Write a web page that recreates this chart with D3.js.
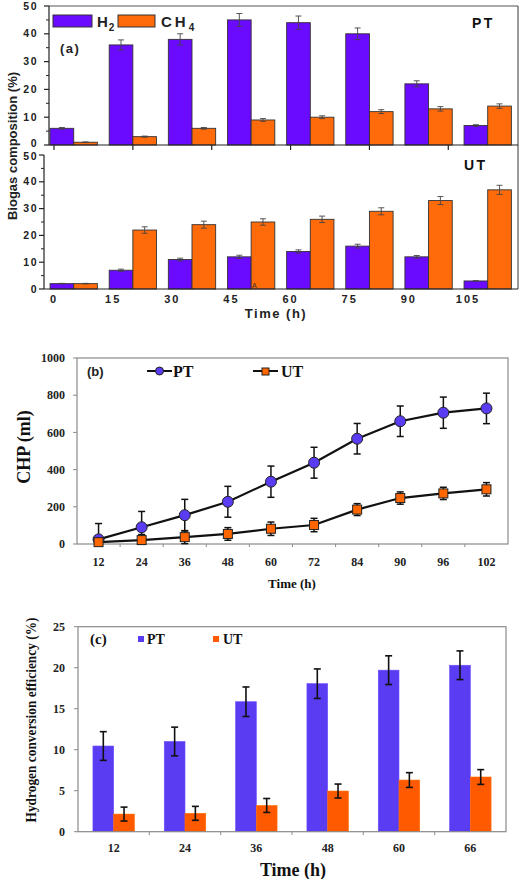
<!DOCTYPE html>
<html><head><meta charset="utf-8">
<script src="https://cdn.jsdelivr.net/npm/d3@7"></script>
<style>body{margin:0;background:#fff}svg{display:block}</style>
</head><body>
<script>
// ---------- DATA ----------
// Panel (a)
const timesA = [0, 15, 30, 45, 60, 75, 90, 105];
const ptH2 = [6, 36, 38, 45, 44, 40, 22, 7];
const ptH2Err = [0.3, 1.8, 2.0, 2.3, 2.4, 2.1, 1.1, 0.3];
const ptCH4 = [1, 3, 6, 9, 10, 12, 13, 14];
const ptCH4Err = [0.1, 0.2, 0.3, 0.5, 0.5, 0.7, 0.8, 0.8];
const utH2 = [2, 7, 11, 12, 14, 16, 12, 3];
const utH2Err = [0.1, 0.4, 0.5, 0.6, 0.6, 0.7, 0.5, 0.1];
const utCH4 = [2, 22, 24, 25, 26, 29, 33, 37];
const utCH4Err = [0.1, 1.2, 1.3, 1.2, 1.2, 1.3, 1.5, 1.7];
const ticksA = [0, 10, 20, 30, 40, 50];
const topTicksA = [0, 20, 40, 60, 80, 100];
// Panel (b)
const timesB = ["12", "24", "36", "48", "60", "72", "84", "90", "96", "102"];
const chpPT = [25, 90, 155, 227, 335, 437, 566, 660, 706, 729];
const chpPTErr = [85, 85, 85, 83, 84, 83, 82, 82, 84, 82];
const chpUT = [10, 21, 37, 54, 82, 102, 185, 247, 272, 294];
const chpUTErr = [15, 30, 35, 34, 36, 36, 32, 33, 33, 36];
const ticksB = [0, 200, 400, 600, 800, 1000];
// Panel (c)
const timesC = ["12", "24", "36", "48", "60", "66"];
const hcePT = [10.45, 11.0, 15.85, 18.05, 19.7, 20.3];
const hcePTErr = [1.75, 1.75, 1.8, 1.8, 1.75, 1.75];
const hceUT = [2.15, 2.24, 3.2, 4.96, 6.3, 6.67];
const hceUTErr = [0.85, 0.85, 0.85, 0.85, 0.9, 0.9];
const ticksC = [0, 5, 10, 15, 20, 25];

// ---------- STYLE ----------
const SANS = "'Liberation Sans', Arial, sans-serif";
const SERIF = "'Liberation Serif', 'Times New Roman', serif";
const cH2 = "#6a0aff", cCH4 = "#ff6a0a";
const cPT = "#5a3cf2", cUT = "#ff5a00";

const svg = d3.select("body").append("svg").attr("width", 520).attr("height", 879);
svg.append("rect").attr("width", 520).attr("height", 879).attr("fill", "#fff");

// ================= PANEL (a) =================
const xA = d3.scaleLinear().domain([0, 105]).range([54, 468]);
const yTop = d3.scaleLinear().domain([0, 50]).range([145, 6]);
const yBot = d3.scaleLinear().domain([0, 50]).range([289, 155]);
const gA = svg.append("g");

function barsA(yS, s1, e1, s2, e2) {
  const g = gA.append("g");
  timesA.forEach((t, i) => {
    const specs = [[s1[i], e1[i], t - 1, t + 5, cH2], [s2[i], e2[i], t + 5, t + 11, cCH4]];
    specs.forEach(([v, e, a, b, c]) => {
      g.append("rect").attr("x", xA(a)).attr("width", xA(b) - xA(a))
        .attr("y", yS(v)).attr("height", yS(0) - yS(v))
        .attr("fill", c).attr("stroke", "#333").attr("stroke-width", 0.9);
      const cx = (xA(a) + xA(b)) / 2;
      const eg = g.append("g").attr("stroke", "#444").attr("stroke-width", 0.9);
      eg.append("line").attr("x1", cx).attr("x2", cx).attr("y1", yS(v + e)).attr("y2", yS(v - e));
      eg.append("line").attr("x1", cx - 3).attr("x2", cx + 3).attr("y1", yS(v + e)).attr("y2", yS(v + e));
      eg.append("line").attr("x1", cx - 3).attr("x2", cx + 3).attr("y1", yS(v - e)).attr("y2", yS(v - e));
    });
  });
}
barsA(yTop, ptH2, ptH2Err, ptCH4, ptCH4Err);
barsA(yBot, utH2, utH2Err, utCH4, utCH4Err);

// frame lines
const fA = gA.append("g").attr("stroke", "#222").attr("stroke-width", 1.2).attr("fill", "none");
fA.append("line").attr("x1", 49).attr("x2", 518).attr("y1", 6).attr("y2", 6).attr("stroke", "#555");
fA.append("line").attr("x1", 518).attr("x2", 518).attr("y1", 6).attr("y2", 289).attr("stroke", "#555");
fA.append("line").attr("x1", 49).attr("x2", 49).attr("y1", 6).attr("y2", 145);
fA.append("line").attr("x1", 49).attr("x2", 518).attr("y1", 145).attr("y2", 145);
fA.append("line").attr("x1", 44).attr("x2", 44).attr("y1", 155).attr("y2", 289);
fA.append("line").attr("x1", 44).attr("x2", 518).attr("y1", 289).attr("y2", 289);

function yAxisA(yS, x0, isTop) {
  const g = gA.append("g");
  ticksA.forEach(v => {
    g.append("line").attr("x1", x0 - 5).attr("x2", x0).attr("y1", yS(v)).attr("y2", yS(v)).attr("stroke", "#222").attr("stroke-width", 1.2);
    let nudge = 0;
    if (isTop && v === 0) nudge = -1.5;
    if (!isTop && v === 50) nudge = 1.5;
    g.append("text").attr("x", 38).attr("y", yS(v) + nudge).attr("dy", "0.35em").attr("text-anchor", "end")
      .attr("font-family", SANS).attr("font-weight", "bold").attr("font-size", 10.5).attr("letter-spacing", 1.5)
      .attr("fill", "#222").text(v);
  });
  d3.range(5, 50, 10).forEach(v => {
    g.append("line").attr("x1", x0 - 3).attr("x2", x0).attr("y1", yS(v)).attr("y2", yS(v)).attr("stroke", "#222");
  });
}
yAxisA(yTop, 49, true);
yAxisA(yBot, 44, false);

topTicksA.forEach(t => {
  gA.append("line").attr("x1", xA(t)).attr("x2", xA(t)).attr("y1", 145).attr("y2", 150).attr("stroke", "#222").attr("stroke-width", 1.2);
});
timesA.forEach(t => {
  gA.append("text").attr("x", xA(t)).attr("y", 299).attr("dy", "0.35em").attr("text-anchor", "middle")
    .attr("font-family", SANS).attr("font-weight", "bold").attr("font-size", 11).attr("letter-spacing", 2)
    .attr("fill", "#222").text(t);
});
gA.append("text").attr("x", 276).attr("y", 313).attr("dy", "0.35em").attr("text-anchor", "middle")
  .attr("font-family", SANS).attr("font-weight", "bold").attr("font-size", 13).attr("letter-spacing", 1.5)
  .attr("fill", "#222").text("Time (h)");
gA.append("text").attr("transform", "translate(12,146) rotate(-90)").attr("text-anchor", "middle").attr("dy", "0.35em")
  .attr("font-family", SANS).attr("font-weight", "bold").attr("font-size", 13)
  .attr("fill", "#222").text("Biogas composition (%)");
gA.append("text").attr("x", 60).attr("y", 53).attr("font-family", SANS).attr("font-weight", "bold")
  .attr("font-size", 13).attr("letter-spacing", 1.5).attr("fill", "#222").text("(a)");
gA.append("text").attr("x", 472).attr("y", 28).attr("font-family", SANS).attr("font-weight", "bold")
  .attr("font-size", 14).attr("letter-spacing", 2.5).attr("fill", "#111").text("PT");
gA.append("text").attr("x", 464).attr("y", 170).attr("font-family", SANS).attr("font-weight", "bold")
  .attr("font-size", 14).attr("letter-spacing", 2.5).attr("fill", "#111").text("UT");
gA.append("text").attr("x", 252).attr("y", 288).attr("font-family", SANS).attr("font-size", 7).attr("fill", "#333").text("A");
// legend (a)
gA.append("rect").attr("x", 53).attr("y", 15).attr("width", 39).attr("height", 12).attr("fill", cH2).attr("stroke", "#333");
const tH = gA.append("text").attr("x", 97).attr("y", 27).attr("font-family", SANS).attr("font-weight", "bold")
  .attr("font-size", 15).attr("letter-spacing", 1).attr("fill", "#222");
tH.append("tspan").text("H");
tH.append("tspan").attr("dy", 4).attr("font-size", 10).text("2");
gA.append("rect").attr("x", 118).attr("y", 15).attr("width", 37).attr("height", 12).attr("fill", cCH4).attr("stroke", "#333");
const tC = gA.append("text").attr("x", 161).attr("y", 27).attr("font-family", SANS).attr("font-weight", "bold")
  .attr("font-size", 15).attr("letter-spacing", 3).attr("fill", "#222");
tC.append("tspan").text("CH");
tC.append("tspan").attr("dy", 4).attr("font-size", 10).text("4");

// ================= PANEL (b) =================
const xB = d3.scaleBand().domain(timesB).range([77, 508]);
const yB = d3.scaleLinear().domain([0, 1000]).range([544, 358]);
const gB = svg.append("g");
gB.append("rect").attr("x", 77).attr("y", 358).attr("width", 431).attr("height", 186)
  .attr("fill", "none").attr("stroke", "#8a8a8a").attr("stroke-width", 1.2);
ticksB.forEach(v => {
  gB.append("line").attr("x1", 73).attr("x2", 77).attr("y1", yB(v)).attr("y2", yB(v)).attr("stroke", "#8a8a8a");
  gB.append("text").attr("x", 65).attr("y", yB(v)).attr("dy", "0.35em").attr("text-anchor", "end")
    .attr("font-family", SERIF).attr("font-weight", "bold").attr("font-size", 12).attr("fill", "#222").text(v);
});
timesB.forEach((t, i) => {
  if (i > 0) gB.append("line").attr("x1", xB(t)).attr("x2", xB(t)).attr("y1", 544).attr("y2", 547).attr("stroke", "#8a8a8a");
  gB.append("text").attr("x", xB(t) + xB.bandwidth() / 2).attr("y", 562).attr("dy", "0.35em").attr("text-anchor", "middle")
    .attr("font-family", SERIF).attr("font-weight", "bold").attr("font-size", 12).attr("fill", "#222").text(t);
});
const cxB = t => xB(t) + xB.bandwidth() / 2;
function seriesB(vals, errs) {
  const line = d3.line().x((d, i) => cxB(timesB[i])).y(d => yB(d));
  gB.append("path").attr("d", line(vals)).attr("fill", "none").attr("stroke", "#111").attr("stroke-width", 2.2);
  const eg = gB.append("g").attr("stroke", "#111").attr("stroke-width", 1.5);
  vals.forEach((v, i) => {
    const cx = cxB(timesB[i]);
    const lo = Math.max(0, v - errs[i]);
    eg.append("line").attr("x1", cx).attr("x2", cx).attr("y1", yB(v + errs[i])).attr("y2", yB(lo));
    eg.append("line").attr("x1", cx - 3.5).attr("x2", cx + 3.5).attr("y1", yB(v + errs[i])).attr("y2", yB(v + errs[i]));
    eg.append("line").attr("x1", cx - 3.5).attr("x2", cx + 3.5).attr("y1", yB(lo)).attr("y2", yB(lo));
  });
}
seriesB(chpPT, chpPTErr);
seriesB(chpUT, chpUTErr);
chpPT.forEach((v, i) => {
  gB.append("circle").attr("cx", cxB(timesB[i])).attr("cy", yB(v)).attr("r", 5.5)
    .attr("fill", cPT).attr("stroke", "#222").attr("stroke-width", 1);
});
chpUT.forEach((v, i) => {
  gB.append("rect").attr("x", cxB(timesB[i]) - 4.5).attr("y", yB(v) - 4.5).attr("width", 9).attr("height", 9)
    .attr("fill", "#ff6600").attr("stroke", "#222").attr("stroke-width", 1);
});
gB.append("text").attr("x", 87).attr("y", 376).attr("font-family", SANS).attr("font-weight", "bold")
  .attr("font-size", 13).attr("fill", "#222").text("(b)");
gB.append("line").attr("x1", 147).attr("x2", 172).attr("y1", 371).attr("y2", 371).attr("stroke", "#111").attr("stroke-width", 2);
gB.append("circle").attr("cx", 159.5).attr("cy", 371).attr("r", 4).attr("fill", cPT).attr("stroke", "#222");
gB.append("text").attr("x", 173).attr("y", 377).attr("font-family", SERIF).attr("font-weight", "bold")
  .attr("font-size", 16).attr("fill", "#111").text("PT");
gB.append("line").attr("x1", 253).attr("x2", 278).attr("y1", 371).attr("y2", 371).attr("stroke", "#111").attr("stroke-width", 2);
gB.append("rect").attr("x", 262).attr("y", 368).attr("width", 7).attr("height", 7).attr("fill", "#ff6600").attr("stroke", "#222");
gB.append("text").attr("x", 281).attr("y", 377).attr("font-family", SERIF).attr("font-weight", "bold")
  .attr("font-size", 16).attr("fill", "#111").text("UT");
gB.append("text").attr("transform", "translate(24,447) rotate(-90)").attr("text-anchor", "middle").attr("dy", "0.35em")
  .attr("font-family", SERIF).attr("font-weight", "bold").attr("font-size", 18).attr("fill", "#111").text("CHP (ml)");
gB.append("text").attr("x", 292).attr("y", 583).attr("dy", "0.35em").attr("text-anchor", "middle")
  .attr("font-family", SERIF).attr("font-weight", "bold").attr("font-size", 13).attr("fill", "#111").text("Time (h)");

// ================= PANEL (c) =================
const xC = d3.scaleBand().domain(timesC).range([78, 506]);
const sub = d3.scaleBand().domain(["PT", "UT"]).range([0, xC.bandwidth()]).paddingOuter(0.72);
const yC = d3.scaleLinear().domain([0, 25]).range([831.7, 626.7]);
const gC = svg.append("g");
function barsC(vals, errs, key, col) {
  vals.forEach((v, i) => {
    const x0 = xC(timesC[i]) + sub(key);
    gC.append("rect").attr("x", x0).attr("width", sub.bandwidth()).attr("y", yC(v)).attr("height", yC(0) - yC(v))
      .attr("fill", col).attr("stroke", d3.color(col).brighter(0.6)).attr("stroke-width", 0.6);
  });
}
barsC(hcePT, hcePTErr, "PT", cPT);
barsC(hceUT, hceUTErr, "UT", cUT);
function errC(vals, errs, key) {
  const eg = gC.append("g").attr("stroke", "#111").attr("stroke-width", 1.6);
  vals.forEach((v, i) => {
    const cx = xC(timesC[i]) + sub(key) + sub.bandwidth() / 2;
    eg.append("line").attr("x1", cx).attr("x2", cx).attr("y1", yC(v + errs[i])).attr("y2", yC(v - errs[i]));
    eg.append("line").attr("x1", cx - 3.5).attr("x2", cx + 3.5).attr("y1", yC(v + errs[i])).attr("y2", yC(v + errs[i]));
    eg.append("line").attr("x1", cx - 3.5).attr("x2", cx + 3.5).attr("y1", yC(v - errs[i])).attr("y2", yC(v - errs[i]));
  });
}
errC(hcePT, hcePTErr, "PT");
errC(hceUT, hceUTErr, "UT");
gC.append("rect").attr("x", 78).attr("y", 626.7).attr("width", 428).attr("height", 205)
  .attr("fill", "none").attr("stroke", "#8a8a8a").attr("stroke-width", 1.2);
ticksC.forEach(v => {
  gC.append("line").attr("x1", 74).attr("x2", 78).attr("y1", yC(v)).attr("y2", yC(v)).attr("stroke", "#8a8a8a");
  gC.append("text").attr("x", 65).attr("y", yC(v)).attr("dy", "0.35em").attr("text-anchor", "end")
    .attr("font-family", SERIF).attr("font-weight", "bold").attr("font-size", 12).attr("fill", "#222").text(v);
});
timesC.forEach((t, i) => {
  if (i > 0) gC.append("line").attr("x1", xC(t)).attr("x2", xC(t)).attr("y1", 831.7).attr("y2", 835).attr("stroke", "#8a8a8a");
  gC.append("text").attr("x", xC(t) + xC.bandwidth() / 2).attr("y", 848).attr("dy", "0.35em").attr("text-anchor", "middle")
    .attr("font-family", SERIF).attr("font-weight", "bold").attr("font-size", 12).attr("fill", "#222").text(t);
});
gC.append("text").attr("x", 90).attr("y", 644).attr("font-family", SERIF).attr("font-weight", "bold")
  .attr("font-size", 15).attr("fill", "#111").text("(c)");
gC.append("rect").attr("x", 138).attr("y", 636).attr("width", 6).attr("height", 6).attr("fill", cPT);
gC.append("text").attr("x", 147).attr("y", 644).attr("font-family", SERIF).attr("font-weight", "bold")
  .attr("font-size", 14).attr("fill", "#111").text("PT");
gC.append("rect").attr("x", 213).attr("y", 636).attr("width", 6).attr("height", 6).attr("fill", cUT);
gC.append("text").attr("x", 223).attr("y", 644).attr("font-family", SERIF).attr("font-weight", "bold")
  .attr("font-size", 14).attr("fill", "#111").text("UT");
gC.append("text").attr("transform", "translate(31,720) rotate(-90)").attr("text-anchor", "middle").attr("dy", "0.35em")
  .attr("font-family", SERIF).attr("font-weight", "bold").attr("font-size", 14).attr("textLength", 205)
  .attr("lengthAdjust", "spacingAndGlyphs").attr("fill", "#111").text("Hydrogen conversion efficiency (%)");
gC.append("text").attr("x", 293).attr("y", 870).attr("dy", "0.35em").attr("text-anchor", "middle")
  .attr("font-family", SERIF).attr("font-weight", "bold").attr("font-size", 18).attr("fill", "#111").text("Time (h)");
</script>
</body></html>
